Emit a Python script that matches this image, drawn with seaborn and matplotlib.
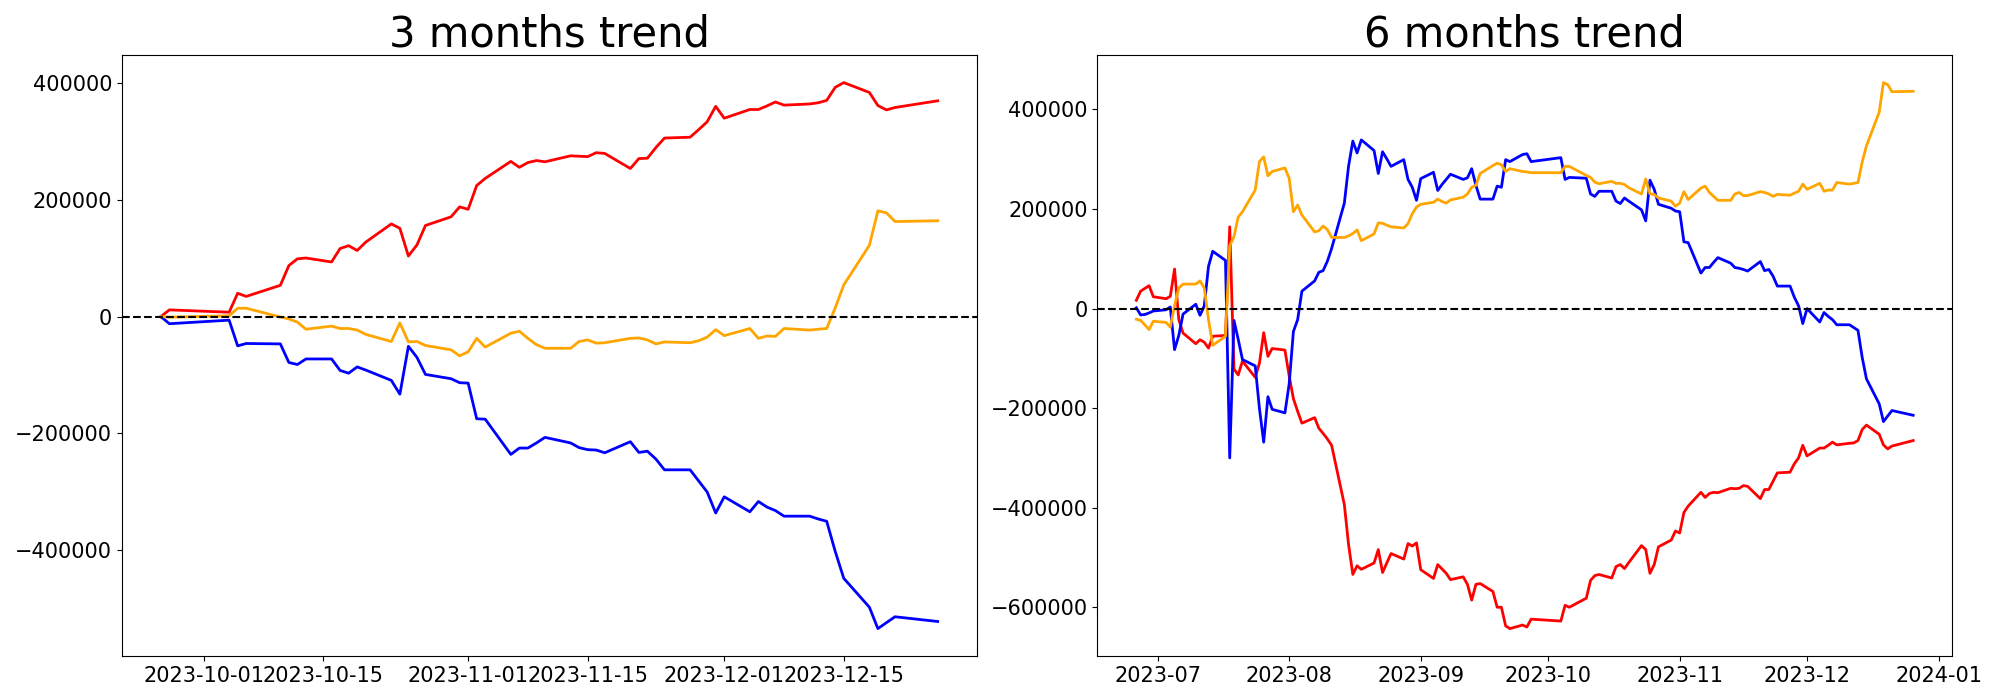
import pandas as pd
import numpy as np
import seaborn as sns
import matplotlib
matplotlib.use('Agg')
import matplotlib.pyplot as plt

# trading days, Jun 26 -> Sep 25 (only in the 6 month window)
dates_early = ['2023-06-26', '2023-06-27', '2023-06-28', '2023-06-29', '2023-06-30',
               '2023-07-03', '2023-07-04', '2023-07-05', '2023-07-06', '2023-07-07',
               '2023-07-10', '2023-07-11', '2023-07-12', '2023-07-13', '2023-07-14',
               '2023-07-17', '2023-07-18', '2023-07-19', '2023-07-20', '2023-07-21',
               '2023-07-24', '2023-07-25', '2023-07-26', '2023-07-27', '2023-07-28',
               '2023-07-31', '2023-08-01', '2023-08-02', '2023-08-03', '2023-08-04',
               '2023-08-07', '2023-08-08', '2023-08-09', '2023-08-10', '2023-08-11',
               '2023-08-14', '2023-08-15', '2023-08-16', '2023-08-17', '2023-08-18',
               '2023-08-21', '2023-08-22', '2023-08-23', '2023-08-24', '2023-08-25',
               '2023-08-28', '2023-08-29', '2023-08-30', '2023-08-31', '2023-09-01',
               '2023-09-04', '2023-09-05', '2023-09-06', '2023-09-07', '2023-09-08',
               '2023-09-11', '2023-09-12', '2023-09-13', '2023-09-14', '2023-09-15',
               '2023-09-18', '2023-09-19', '2023-09-20', '2023-09-21', '2023-09-22',
               '2023-09-25']

# trading days in the 3 month window (gaps are in the data)
dates_3m = ['2023-09-26', '2023-09-27',
            '2023-10-04', '2023-10-05', '2023-10-06',
            '2023-10-10', '2023-10-11', '2023-10-12', '2023-10-13',
            '2023-10-16', '2023-10-17', '2023-10-18', '2023-10-19', '2023-10-20',
            '2023-10-23', '2023-10-24', '2023-10-25', '2023-10-26', '2023-10-27',
            '2023-10-30', '2023-10-31', '2023-11-01', '2023-11-02', '2023-11-03',
            '2023-11-06', '2023-11-07', '2023-11-08', '2023-11-09', '2023-11-10',
            '2023-11-13', '2023-11-14', '2023-11-15', '2023-11-16', '2023-11-17',
            '2023-11-20', '2023-11-21', '2023-11-22', '2023-11-23', '2023-11-24',
            '2023-11-27', '2023-11-28', '2023-11-29', '2023-11-30', '2023-12-01',
            '2023-12-04', '2023-12-05', '2023-12-06', '2023-12-07', '2023-12-08',
            '2023-12-11', '2023-12-12', '2023-12-13', '2023-12-14', '2023-12-15',
            '2023-12-18', '2023-12-19', '2023-12-20', '2023-12-21',
            '2023-12-26']

dates_6m = dates_early + dates_3m

# 3 months trend
red_3m = [0, 11500,
          7500, 40000, 34600,
          53600, 87500, 99000, 100400,
          93600, 116700, 121500, 113300, 127600,
          158800, 151300, 103800, 122800, 156100,
          171000, 188000, 183900, 224600, 236800,
          266000, 255800, 264000, 267400, 265300,
          275500, 274800, 274100, 280900, 279600,
          253800, 270800, 271400, 289800, 306000,
          307400, 320300, 333900, 360300, 340000,
          354900, 354900, 361000, 367800, 362400,
          364400, 366400, 370500, 392900, 401000,
          384100, 361700, 354200, 358300,
          369800]

blue_3m = [0, -12200,
           -6100, -50200, -46100,
           -46800, -78700, -82100, -72600,
           -72600, -92300, -97000, -86200, -91600,
           -109300, -133000, -50900, -69900, -99100,
           -106500, -113300, -114000, -175100, -175800,
           -236200, -225300, -225300, -216500, -207000,
           -216500, -224600, -228000, -228700, -233400,
           -214400, -232800, -230700, -244300, -262600,
           -262600, -281600, -300600, -336600, -308800,
           -334500, -316900, -326400, -332500, -342000,
           -342000, -346800, -350800, -402400, -448500,
           -498000, -534700, -524500, -514400,
           -522500]

orange_3m = [0, -1000,
             1400, 14300, 14300,
             -700, -4000, -9500, -21700,
             -16300, -20400, -20400, -23100, -30500,
             -42700, -10900, -43400, -42700, -49500,
             -57000, -67200, -60400, -37300, -52300,
             -28500, -25100, -37300, -48200, -54300,
             -54300, -42700, -40000, -45500, -44800,
             -37300, -36600, -40000, -46800, -43400,
             -44800, -41400, -35300, -22400, -32600,
             -20400, -37300, -33300, -33900, -20400,
             -23100, -21700, -20400, 14900, 54300,
             122100, 181200, 177800, 162900,
             164200]

# 6 months trend
red_6m = [16700, 34900, 40500, 46000, 23800,
          19800, 24600, 79400, -22000, -49200,
          -70600, -62700, -67500, -79400, -55600,
          -54000, 164300, -121400, -133300, -105600,
          -138100, -109500, -48400, -96000, -80200,
          -83300, -134900, -181000, -206400, -230200,
          -219100, -240500, -250800, -261900, -274600,
          -393700, -474600, -534100, -516700, -523800,
          -511100, -484100, -530200, -511100, -492100,
          -503200, -472200, -477000, -470700, -524600,
          -542100, -514300, -523000, -531800, -544500,
          -538900, -554000, -585700, -554000, -552400,
          -568300, -600000, -600000, -637400, -642900,
          -635800,
          -639700, -623900,
          -627800, -596100, -600000,
          -581800, -546100, -536500, -534200,
          -541300, -518300, -514300, -522300, -510300,
          -476200, -484100, -531800, -514300, -478600,
          -465100, -446800, -450800, -409500, -396800,
          -369100, -379400, -371500, -369100, -369900,
          -361100, -361900, -361100, -355600, -357100,
          -381800, -363500, -363500, -346800, -330100,
          -328600, -311900, -300000, -274600, -296000,
          -280200, -280200, -274600, -268300, -273800,
          -270600, -269900, -265100, -242900, -234100,
          -252400, -273800, -281800, -276200,
          -265100]

blue_6m = [1600, -12700, -11900, -8700, -4800,
           -2400, 3200, -82500, -54000, -11100,
           8700, -13500, 5600, 84900, 115100,
           96800, -300000, -23800, -61900, -102400,
           -115100, -200800, -268300, -177000, -202400,
           -209500, -151600, -46000, -22200, 34900,
           55600, 73000, 76200, 95200, 120600,
           211900, 286500, 336500, 312700, 338900,
           317500, 271400, 315100, 300800, 285700,
           299200, 259500, 243700, 217500, 261100,
           273800, 237300, 249200, 259500, 269900,
           259500, 262700, 281000, 247600, 219900,
           219900, 246000, 243700, 299200, 295300,
           309500,
           311100, 295300,
           303200, 259500, 263500,
           261900, 230200, 225400, 235700,
           235700, 215900, 211100, 222200, 215900,
           198400, 176200, 257900, 239700, 209500,
           201600, 196000, 194500, 134100, 132500,
           71400, 82500, 82500, 92900, 102400,
           91300, 82500, 81000, 78600, 75400,
           94400, 76200, 78600, 65100, 45200,
           45200, 23000, 5600, -30200, 0,
           -27000, -7900, -15900, -22200, -32500,
           -32500, -38100, -43700, -98400, -141300,
           -191300, -227000, -215900, -204800,
           -214300]

orange_6m = [-21400, -23800, -32500, -42100, -25400,
             -27800, -37300, 5600, 41300, 49200,
             49200, 55600, 41300, -22200, -73800,
             -55600, 126200, 144500, 184100, 194500,
             238100, 295300, 304800, 266700, 275400,
             282600, 261900, 194500, 208000, 188100,
             154000, 156400, 165900, 158700, 142900,
             142900, 146000, 150800, 157900, 136500,
             150000, 172200, 171400, 167500, 164300,
             161900, 170600, 190500, 204000, 209500,
             213500, 219900, 215100, 211900, 218300,
             223800, 230200, 243700, 247600, 271400,
             287300, 292100, 288900, 275400, 281000,
             275400,
             274600, 273000,
             273000, 285700, 285700,
             267500, 263500, 254000, 250800,
             255600, 251600, 251600, 249200, 242900,
             230200, 260300, 230200, 229400, 222200,
             215900, 205600, 211900, 234900, 219100,
             242100, 246000, 233300, 225400, 217500,
             217500, 230200, 233300, 227000, 227000,
             234900, 233300, 230200, 225400, 229400,
             227800, 231800, 235700, 250000, 239700,
             251600, 235700, 238100, 238100, 253200,
             250000, 251600, 253200, 294500, 327000,
             394500, 454000, 450000, 435700,
             436500]

panels = [('3 months trend', dates_3m, red_3m, blue_3m, orange_3m),
          ('6 months trend', dates_6m, red_6m, blue_6m, orange_6m)]

fig, axes = plt.subplots(1, 2, figsize=(20, 7))
plt.subplots_adjust(left=0.061, right=0.976, bottom=0.063, top=0.921, wspace=0.1416)

for ax, (title, dates, red, blue, orange) in zip(axes, panels):
    x = pd.to_datetime(dates)
    sns.lineplot(x=x, y=red, color='red', linewidth=2, ax=ax)
    sns.lineplot(x=x, y=blue, color='blue', linewidth=2, ax=ax)
    sns.lineplot(x=x, y=orange, color='orange', linewidth=2, ax=ax)
    ax.axhline(0, color='black', linestyle='--', linewidth=1.5)
    ax.set_title(title, fontsize=30)
    ax.tick_params(labelsize=15)
    ax.set_xlabel('')
    ax.set_ylabel('')

fig.savefig('out.png', dpi=100)
